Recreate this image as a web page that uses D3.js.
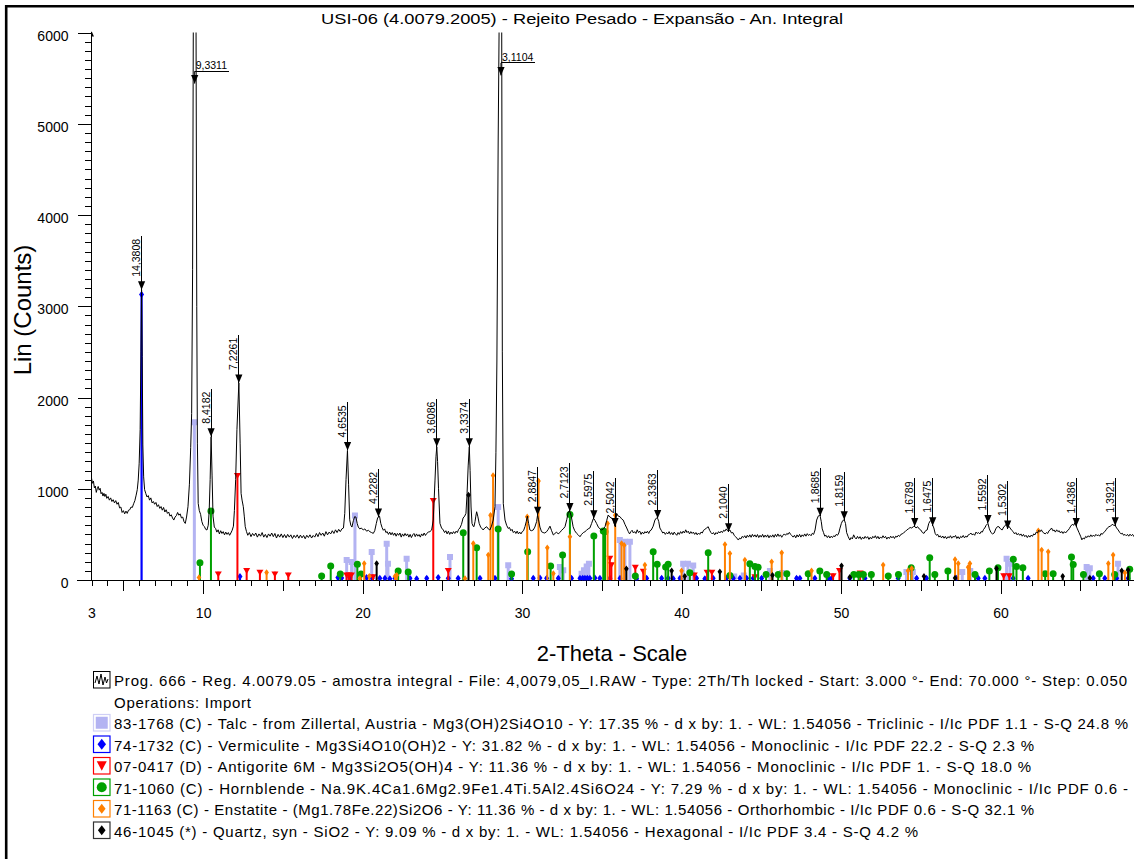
<!DOCTYPE html>
<html>
<head>
<meta charset="utf-8">
<script src="https://cdn.jsdelivr.net/npm/d3@7"></script>
<style>
  body { margin: 0; background: #fff; }
  svg { display: block; }
  text { font-family: "Liberation Sans", Arial, sans-serif; fill: #000; }
</style>
</head>
<body>
<svg id="chart" width="1134" height="859"></svg>
<script>
// ---------------------------------------------------------------- data
const chartTitle = "USI-06 (4.0079.2005) - Rejeito Pesado - Expansão - An. Integral";
const xAxisTitle = "2-Theta - Scale";
const yAxisTitle = "Lin (Counts)";
const xTickLabels = [3, 10, 20, 30, 40, 50, 60];
const yTickValues = [0, 1000, 2000, 3000, 4000, 5000, 6000];
const wavelength = 1.54056;

// measured scan: [2-theta (deg), counts]
const scan = [
  [3.00,1117],[3.06,1060],[3.12,1085],[3.18,1010],[3.24,1030],[3.30,960],[3.36,1000],[3.42,1025],[3.48,985],[3.54,1005],
  [3.60,945],[3.66,960],[3.72,920],[3.78,950],[3.84,915],[3.90,940],[3.96,895],[4.04,915],[4.12,875],[4.20,900],
  [4.28,860],[4.36,880],[4.44,845],[4.52,870],[4.60,830],[4.68,850],[4.76,790],[4.84,800],[4.92,740],[5.00,760],
  [5.08,725],[5.16,755],[5.24,730],[5.32,765],[5.40,770],[5.48,800],[5.56,795],[5.64,835],[5.72,870],[5.80,930],
  [5.87,990],[5.93,1095],[5.99,1280],[6.05,1650],[6.10,2500],[6.14,3180],[6.18,2450],[6.22,1480],[6.27,1130],[6.33,990],
  [6.40,950],[6.48,910],[6.56,925],[6.64,875],[6.72,900],[6.80,845],[6.88,860],[6.96,830],[7.04,850],[7.12,805],
  [7.20,825],[7.28,785],[7.36,805],[7.44,765],[7.52,795],[7.60,745],[7.68,770],[7.76,730],[7.84,745],[7.92,700],
  [8.00,715],[8.08,680],[8.16,657],[8.24,690],[8.32,705],[8.40,740],[8.48,710],[8.56,725],[8.64,680],[8.72,690],
  [8.80,640],[8.88,620],[8.96,690],[9.05,803],[9.14,1050],[9.22,1450],[9.28,1825],[9.34,3400],[9.39,6500],[9.47,8200],
  [9.55,6400],[9.60,3000],[9.64,1500],[9.69,840],[9.76,760],[9.84,720],[9.92,640],[10.00,600],[10.08,585],[10.16,555],
  [10.24,548],[10.32,600],[10.38,760],[10.44,1100],[10.50,1570],[10.56,1150],[10.62,700],[10.70,580],[10.78,565],[10.86,525],
  [10.94,550],[11.02,505],[11.10,540],[11.18,510],[11.26,530],[11.34,495],[11.42,525],[11.50,500],[11.58,520],[11.66,490],
  [11.74,515],[11.82,545],[11.90,590],[11.96,760],[12.04,1100],[12.12,1650],[12.24,2160],[12.32,1500],[12.38,950],[12.44,876],
  [12.52,803],[12.58,700],[12.64,584],[12.72,530],[12.80,490],[12.90,520],[13.00,475],[13.10,510],[13.20,485],[13.30,515],
  [13.40,470],[13.50,505],[13.60,480],[13.70,520],[13.80,470],[13.90,500],[14.00,465],[14.10,505],[14.20,480],[14.30,515],
  [14.40,475],[14.50,510],[14.60,460],[14.70,500],[14.80,470],[14.90,505],[15.00,465],[15.10,498],[15.20,462],[15.30,500],
  [15.40,470],[15.50,495],[15.60,455],[15.70,490],[15.80,465],[15.90,495],[16.00,458],[16.10,492],[16.20,462],[16.30,488],
  [16.40,452],[16.50,490],[16.60,466],[16.70,495],[16.80,460],[16.90,488],[17.00,470],[17.10,510],[17.20,475],[17.30,520],
  [17.40,490],[17.50,515],[17.60,480],[17.70,530],[17.80,495],[17.90,525],[18.00,505],[18.10,540],[18.20,510],[18.30,550],
  [18.40,520],[18.50,555],[18.60,530],[18.70,560],[18.80,570],[18.88,730],[18.96,1100],[19.05,1420],[19.12,1050],[19.19,660],
  [19.26,600],[19.33,580],[19.42,650],[19.50,694],[19.58,690],[19.66,620],[19.73,580],[19.82,560],[19.92,570],[20.04,548],
  [20.14,560],[20.25,535],[20.36,545],[20.46,529],[20.56,520],[20.67,511],[20.76,540],[20.86,620],[20.94,680],[20.99,690],
  [21.06,700],[21.14,620],[21.22,575],[21.30,545],[21.38,560],[21.46,520],[21.54,530],[21.62,500],[21.70,525],[21.78,495],
  [21.86,520],[21.94,490],[22.02,515],[22.10,480],[22.18,510],[22.26,490],[22.34,515],[22.42,470],[22.50,505],[22.58,480],
  [22.66,510],[22.74,485],[22.82,505],[22.90,470],[22.98,500],[23.06,465],[23.14,495],[23.22,510],[23.30,475],[23.38,505],
  [23.46,480],[23.54,498],[23.62,470],[23.70,505],[23.78,485],[23.86,515],[23.94,488],[24.02,510],[24.12,525],[24.22,530],
  [24.33,548],[24.43,657],[24.54,1095],[24.60,1350],[24.65,1460],[24.70,1300],[24.76,1000],[24.85,620],[24.95,570],[25.06,548],
  [25.14,520],[25.22,540],[25.30,505],[25.38,535],[25.46,500],[25.54,525],[25.62,505],[25.70,530],[25.78,510],[25.86,535],
  [25.94,520],[26.02,555],[26.10,570],[26.20,610],[26.30,679],[26.40,700],[26.48,730],[26.55,950],[26.62,1250],[26.69,1460],
  [26.74,1200],[26.80,800],[26.86,620],[26.93,590],[26.98,584],[27.05,640],[27.10,700],[27.15,748],[27.22,700],[27.31,620],
  [27.40,580],[27.50,560],[27.56,548],[27.66,570],[27.78,584],[27.88,560],[27.98,548],[28.08,590],[28.19,657],[28.30,803],
  [28.36,1400],[28.42,2400],[28.50,4800],[28.58,6500],[28.66,7600],[28.72,6300],[28.76,2500],[28.82,840],[28.93,657],[29.03,600],
  [29.13,565],[29.21,575],[29.29,540],[29.37,555],[29.45,520],[29.53,535],[29.61,510],[29.69,535],[29.77,505],[29.85,525],
  [29.93,505],[30.01,530],[30.09,540],[30.18,584],[30.26,640],[30.33,700],[30.41,620],[30.49,548],[30.58,540],[30.70,548],
  [30.80,580],[30.91,640],[30.97,710],[31.03,660],[31.12,580],[31.22,529],[31.32,520],[31.42,515],[31.54,530],[31.64,555],
  [31.75,590],[31.84,545],[31.96,493],[32.06,510],[32.16,525],[32.26,505],[32.37,520],[32.48,545],[32.58,560],[32.69,584],
  [32.80,660],[32.90,748],[33.00,750],[33.08,700],[33.20,584],[33.30,540],[33.42,511],[33.52,495],[33.63,474],[33.73,500],
  [33.84,520],[33.94,529],[34.04,545],[34.14,560],[34.25,570],[34.36,620],[34.46,670],[34.50,672],[34.58,650],[34.67,620],
  [34.78,580],[34.88,560],[34.99,548],[35.10,560],[35.20,584],[35.30,650],[35.40,712],[35.50,690],[35.62,679],[35.72,650],
  [35.83,588],[35.93,730],[36.03,700],[36.14,694],[36.24,670],[36.34,657],[36.45,610],[36.56,570],[36.66,530],[36.74,505],
  [36.82,530],[36.90,545],[36.98,515],[37.06,530],[37.14,510],[37.22,550],[37.30,520],[37.38,535],[37.46,500],[37.54,525],
  [37.62,505],[37.70,530],[37.78,515],[37.86,535],[37.94,510],[38.02,540],[38.10,548],[38.22,590],[38.33,657],[38.43,680],
  [38.50,676],[38.57,640],[38.64,570],[38.74,540],[38.82,515],[38.90,525],[38.98,500],[39.06,520],[39.14,505],[39.22,530],
  [39.30,500],[39.38,520],[39.46,495],[39.54,525],[39.62,505],[39.70,490],[39.78,520],[39.86,500],[39.94,530],[40.02,510],
  [40.10,535],[40.18,515],[40.26,550],[40.34,520],[40.42,535],[40.50,505],[40.58,530],[40.66,510],[40.74,525],[40.82,500],
  [40.90,520],[40.98,495],[41.06,515],[41.14,500],[41.22,525],[41.30,515],[41.38,545],[41.46,555],[41.57,570],[41.67,584],
  [41.76,545],[41.84,520],[41.92,505],[42.00,520],[42.08,495],[42.16,520],[42.24,505],[42.32,530],[42.40,515],[42.48,535],
  [42.56,520],[42.64,545],[42.72,535],[42.80,560],[42.88,540],[42.95,535],[43.03,548],[43.13,515],[43.22,520],[43.30,490],
  [43.38,475],[43.46,460],[43.56,438],[43.64,460],[43.72,450],[43.80,478],[43.88,465],[43.96,485],[44.04,460],[44.12,490],
  [44.20,470],[44.28,495],[44.36,468],[44.44,500],[44.52,475],[44.60,495],[44.68,470],[44.76,498],[44.84,465],[44.92,490],
  [45.00,470],[45.08,500],[45.16,468],[45.24,492],[45.32,470],[45.40,495],[45.48,462],[45.56,488],[45.64,470],[45.72,495],
  [45.80,468],[45.88,500],[45.96,475],[46.04,505],[46.12,478],[46.20,495],[46.28,468],[46.36,490],[46.44,505],[46.52,490],
  [46.60,510],[46.68,500],[46.76,522],[46.84,500],[46.92,485],[47.00,470],[47.08,490],[47.16,462],[47.24,495],[47.32,472],
  [47.40,500],[47.48,470],[47.56,495],[47.64,478],[47.72,505],[47.80,480],[47.88,508],[47.96,488],[48.04,500],[48.12,485],
  [48.20,512],[48.28,500],[48.37,548],[48.47,657],[48.57,700],[48.63,710],[48.69,700],[48.76,640],[48.82,560],[48.90,520],
  [48.98,480],[49.06,490],[49.14,465],[49.22,485],[49.30,460],[49.38,480],[49.46,465],[49.54,485],[49.62,475],[49.70,500],
  [49.78,490],[49.86,515],[49.92,560],[50.02,620],[50.10,650],[50.20,660],[50.28,620],[50.35,520],[50.45,474],[50.55,438],
  [50.63,465],[50.71,450],[50.79,495],[50.87,465],[50.95,450],[51.03,478],[51.11,455],[51.19,475],[51.27,445],[51.35,470],
  [51.43,452],[51.51,478],[51.59,458],[51.67,475],[51.75,445],[51.83,468],[51.91,450],[51.99,478],[52.07,462],[52.15,485],
  [52.23,455],[52.31,478],[52.39,450],[52.47,472],[52.55,458],[52.63,485],[52.71,462],[52.79,478],[52.87,448],[52.95,470],
  [53.03,455],[53.11,480],[53.19,462],[53.27,478],[53.35,455],[53.43,480],[53.51,470],[53.59,490],[53.67,478],[53.75,500],
  [53.83,505],[53.91,515],[54.02,530],[54.12,548],[54.22,560],[54.33,575],[54.43,570],[54.53,584],[54.62,588],[54.70,570],
  [54.80,584],[54.90,560],[55.00,548],[55.10,520],[55.20,511],[55.30,540],[55.40,548],[55.50,620],[55.60,650],[55.68,640],
  [55.75,600],[55.82,570],[55.90,511],[55.98,490],[56.06,500],[56.14,470],[56.22,485],[56.30,462],[56.38,482],[56.46,458],
  [56.54,478],[56.62,452],[56.70,475],[56.78,462],[56.86,485],[56.94,458],[57.02,478],[57.10,470],[57.18,488],[57.26,455],
  [57.34,475],[57.42,452],[57.50,478],[57.58,465],[57.66,488],[57.74,462],[57.82,480],[57.90,470],[57.98,495],[58.06,500],
  [58.14,515],[58.22,495],[58.30,505],[58.38,490],[58.46,525],[58.54,510],[58.62,520],[58.70,505],[58.78,530],[58.86,525],
  [58.94,555],[59.01,570],[59.10,600],[59.21,620],[59.30,560],[59.40,520],[59.50,505],[59.60,515],[59.70,560],[59.80,584],
  [59.90,584],[60.00,560],[60.10,548],[60.21,584],[60.32,600],[60.38,620],[60.44,565],[60.52,590],[60.60,570],[60.70,545],
  [60.80,529],[60.88,505],[60.96,520],[61.04,495],[61.12,510],[61.20,490],[61.28,505],[61.36,480],[61.44,500],[61.52,475],
  [61.60,490],[61.68,465],[61.76,488],[61.84,470],[61.92,492],[62.00,478],[62.08,505],[62.16,495],[62.24,525],[62.32,515],
  [62.40,545],[62.48,530],[62.56,550],[62.64,525],[62.72,515],[62.80,505],[62.88,520],[62.96,510],[63.04,540],[63.12,550],
  [63.20,570],[63.28,540],[63.36,548],[63.44,525],[63.52,550],[63.60,530],[63.68,540],[63.76,515],[63.84,532],[63.92,510],
  [64.00,530],[64.08,515],[64.16,535],[64.24,545],[64.32,565],[64.40,590],[64.50,610],[64.60,600],[64.66,630],[64.75,588],
  [64.82,560],[64.92,520],[65.02,480],[65.10,440],[65.18,460],[65.26,450],[65.34,478],[65.42,465],[65.50,485],[65.58,470],
  [65.66,495],[65.74,475],[65.82,492],[65.90,478],[65.98,500],[66.06,485],[66.14,495],[66.22,480],[66.30,510],[66.38,500],
  [66.46,520],[66.54,530],[66.62,550],[66.70,570],[66.80,584],[66.90,590],[67.00,610],[67.10,600],[67.19,598],[67.28,570],
  [67.38,548],[67.48,520],[67.56,505],[67.64,512],[67.72,490],[67.80,500],[67.88,485],[67.96,500],[68.04,480],[68.12,502],
  [68.20,485],[68.28,500],[68.36,478],[68.44,495],[68.52,480],[68.60,498],[68.70,485],[68.80,492]
];

// peaks picked on the scan: d-spacing (Angstrom) and counts at the marker
const peakD = [14.3808, 9.3311, 8.4182, 7.2261, 4.6535, 4.2282, 3.6086, 3.3374, 3.1104, 2.8847, 2.7123, 2.5975,
  2.5042, 2.3363, 2.1040, 1.8685, 1.8159, 1.6789, 1.6475, 1.5592, 1.5302, 1.4386, 1.3921];
const peakCounts = [3180, 5440, 1570, 2160, 1420, 690, 1460, 1460, 5530, 710, 750, 670,
  585, 675, 530, 700, 660, 585, 595, 620, 560, 585, 595];

// reference patterns: [2-theta (deg), counts]
const talcSticks = [[9.45,1750],[19.00,240],[19.31,220],[19.52,730],[20.57,330],[21.51,420],[21.59,200],[22.76,255],
  [25.48,274],[28.50,821],[29.13,183],[32.37,164],[32.58,130],[33.73,90],[33.88,130],[34.05,170],[34.19,200],[36.13,460],
  [36.45,440],[36.76,440],[40.10,200],[40.40,200],[40.73,180],[43.30,60],[43.90,70],[45.54,120],[46.30,100],[54.10,110],
  [54.50,110],[57.60,110],[58.10,120],[60.38,255],[60.59,200],[65.40,164],[65.60,150],[67.37,200]];
const vermiculiteSticks = [[6.14,3150],[12.31,60],[18.45,50],[18.69,45],[19.20,50],[20.25,50],[20.60,40],[21.08,40],
  [21.40,40],[21.71,35],[22.03,40],[22.97,40],[23.39,35],[24.02,40],[24.74,50],[25.37,40],[25.99,40],[27.36,40],[28.30,40],
  [29.34,35],[30.70,40],[31.12,45],[31.54,40],[32.27,40],[33.10,40],[33.63,40],[33.80,40],[33.94,40],[34.09,40],[34.25,40],
  [34.57,45],[34.88,40],[35.51,40],[36.14,40],[37.18,35],[37.81,40],[38.75,40],[39.16,40],[39.48,35],[39.90,40],[40.94,40],
  [41.46,35],[41.98,40],[42.82,40],[43.24,40],[43.66,40],[44.08,40],[44.49,40],[45.02,40],[47.21,40],[47.42,40],[48.36,40],
  [49.20,40],[49.41,40],[50.55,40],[51.50,40],[53.58,40],[54.74,40],[55.36,40],[57.24,40],[58.60,40],[59.02,40],[60.79,40],
  [61.73,40],[65.81,40],[66.54,40],[67.28,40],[68.00,40]];
const antigoriteSticks = [[10.95,91],[12.15,1168],[12.73,128],[13.56,110],[14.50,91],[15.34,80],[19.00,80],[19.15,80],
  [19.30,80],[20.65,60],[24.43,895],[25.37,128],[35.50,263],[35.60,190],[37.10,164],[37.60,120],[40.80,80],[41.60,110],
  [41.90,110],[44.60,60],[49.50,70],[49.90,128],[51.20,100],[60.20,70],[60.55,70]];
const hornblendeSticks = [[9.80,200],[10.49,767],[17.43,55],[18.00,164],[18.60,77],[19.67,183],[19.90,77],[22.23,110],
  [22.86,100],[26.31,529],[27.15,365],[28.50,570],[29.34,77],[30.35,321],[31.79,164],[32.54,285],[33.00,730],[34.50,493],
  [35.09,548],[35.20,540],[37.10,55],[38.22,321],[38.47,183],[39.00,153],[39.16,183],[40.52,91],[41.67,310],[43.03,60],
  [44.28,190],[44.60,160],[44.80,150],[45.30,70],[46.06,70],[46.60,80],[47.94,80],[48.67,110],[49.10,70],[50.80,70],
  [51.10,70],[51.40,70],[51.90,70],[52.96,55],[53.60,70],[54.40,146],[55.56,256],[55.88,70],[56.70,110],[58.40,70],
  [59.30,110],[59.84,146],[60.80,237],[61.00,160],[61.40,146],[62.80,80],[63.30,80],[64.45,263],[64.56,180],[65.20,70],
  [66.20,80],[67.16,70],[68.10,128]];
const enstatiteSticks = [[9.74,47],[13.98,102],[19.83,36],[20.10,200],[20.42,60],[22.03,60],[22.14,70],[26.42,36],
  [26.94,420],[27.88,292],[28.02,730],[28.18,1165],[30.32,712],[31.03,1105],[31.58,372],[31.96,91],[33.00,493],[35.36,639],
  [35.84,730],[36.24,420],[36.40,400],[37.70,183],[40.00,120],[42.72,409],[43.03,310],[43.97,237],[45.65,219],[46.28,318],
  [48.15,120],[52.64,183],[54.20,120],[54.43,146],[57.15,245],[57.35,200],[57.97,160],[58.08,200],[62.37,558],[62.58,347],
  [62.99,329],[66.76,200],[67.06,292],[67.80,100]];
const quartzSticks = [[20.88,200],[26.64,950],[36.54,142],[39.38,120],[40.20,60],[42.40,110],[45.70,70],[50.03,175],
  [50.55,50],[55.20,60],[57.15,40],[59.75,146],[63.90,60],[65.60,40],[67.60,120],[68.00,130]];

const legendTexts = [
  "Prog. 666 - Reg. 4.0079.05 - amostra integral - File: 4,0079,05_I.RAW - Type: 2Th/Th locked - Start: 3.000 °- End: 70.000 °- Step: 0.050",
  "Operations: Import",
  "83-1768 (C) - Talc - from Zillertal, Austria - Mg3(OH)2Si4O10 - Y: 17.35 % - d x by: 1. - WL: 1.54056 - Triclinic - I/Ic PDF 1.1 - S-Q 24.8 %",
  "74-1732 (C) - Vermiculite - Mg3Si4O10(OH)2 - Y: 31.82 % - d x by: 1. - WL: 1.54056 - Monoclinic - I/Ic PDF 22.2 - S-Q 2.3 %",
  "07-0417 (D) - Antigorite 6M - Mg3Si2O5(OH)4 - Y: 11.36 % - d x by: 1. - WL: 1.54056 - Monoclinic - I/Ic PDF 1. - S-Q 18.0 %",
  "71-1060 (C) - Hornblende - Na.9K.4Ca1.6Mg2.9Fe1.4Ti.5Al2.4Si6O24 - Y: 7.29 % - d x by: 1. - WL: 1.54056 - Monoclinic - I/Ic PDF 0.6 -",
  "71-1163 (C) - Enstatite - (Mg1.78Fe.22)Si2O6 - Y: 11.36 % - d x by: 1. - WL: 1.54056 - Orthorhombic - I/Ic PDF 0.6 - S-Q 32.1 %",
  "46-1045 (*) - Quartz, syn - SiO2 - Y: 9.09 % - d x by: 1. - WL: 1.54056 - Hexagonal - I/Ic PDF 3.4 - S-Q 4.2 %"
];

// ---------------------------------------------------------------- layout
const W = 1134, H = 859;
const svg = d3.select("#chart");
const x = d3.scaleLinear().domain([3, 70]).range([91.5, 1160]);
const y = d3.scaleLinear().domain([0, 6000]).range([580, 32.5]);
const plotTop = y(6000), plotBottom = y(0), plotLeft = x(3);

// phase styles: stick colour, width and the symbol at the tip
const phases = [
  { sticks: talcSticks,        color: "#b3b3f2", width: 3,   symbol: "square",   size: 6 },
  { sticks: vermiculiteSticks, color: "#0000ff", width: 2.2, symbol: "diamond",  size: 6 },
  { sticks: antigoriteSticks,  color: "#ff0000", width: 2,   symbol: "triangle", size: 7 },
  { sticks: hornblendeSticks,  color: "#00a000", width: 2,   symbol: "circle",   size: 7 },
  { sticks: enstatiteSticks,   color: "#ff8000", width: 2,   symbol: "diamond",  size: 5.5 },
  { sticks: quartzSticks,      color: "#000000", width: 2,   symbol: "diamond",  size: 5.5 }
];

function symbolPath(kind, cx, cy, s) {
  const h = s / 2;
  if (kind === "square") return `M${cx - h},${cy - h}h${s}v${s}h${-s}Z`;
  if (kind === "diamond") return `M${cx},${cy - h - 0.5}L${cx + h * 0.85},${cy}L${cx},${cy + h + 0.5}L${cx - h * 0.85},${cy}Z`;
  if (kind === "triangle") return `M${cx - h},${cy - h * 0.8}L${cx + h},${cy - h * 0.8}L${cx},${cy + h * 0.9}Z`;
  return null;
}

// outer frame (left and top rules)
svg.append("line").attr("x1", 6.2).attr("x2", 6.2).attr("y1", 5).attr("y2", H)
  .attr("stroke", "#000").attr("stroke-width", 2.6);
svg.append("line").attr("x1", 5).attr("x2", W).attr("y1", 6.2).attr("y2", 6.2)
  .attr("stroke", "#000").attr("stroke-width", 2.6);

// title
svg.append("text").attr("x", 582).attr("y", 23.5).attr("text-anchor", "middle")
  .style("font-size", "15.5px").attr("textLength", 522).attr("lengthAdjust", "spacingAndGlyphs")
  .text(chartTitle);

svg.append("defs").append("clipPath").attr("id", "plotClip")
  .append("rect").attr("x", plotLeft).attr("y", plotTop)
  .attr("width", W - plotLeft).attr("height", plotBottom - plotTop + 0.5);

// ---------------------------------------------------------------- axes
function tidy(g) {
  g.attr("font-family", null).attr("font-size", null);
  g.select(".domain").remove();
  g.selectAll(".tick line").attr("stroke", "#000").attr("shape-rendering", "crispEdges");
  g.selectAll(".tick text").style("font-size", "14px").attr("fill", "#111");
}
const degrees = d3.range(3, 71);
const gx = svg.append("g").attr("transform", `translate(0,${plotBottom})`);
gx.append("g").call(d3.axisBottom(x).tickValues(degrees.filter(v => v % 5 !== 0)).tickSize(6).tickFormat("")).call(tidy);
gx.append("g").call(d3.axisBottom(x).tickValues(degrees.filter(v => v % 5 === 0 && v % 10 !== 0)).tickSize(10.5).tickFormat("")).call(tidy);
gx.append("g").call(d3.axisBottom(x).tickValues(degrees.filter(v => v % 10 === 0)).tickSize(14).tickFormat("")).call(tidy);
gx.append("g").call(d3.axisBottom(x).tickValues(xTickLabels).tickSize(0).tickPadding(28).tickFormat(d3.format("d"))).call(tidy);

const gy = svg.append("g").attr("transform", `translate(${plotLeft},0)`);
gy.append("g").call(d3.axisLeft(y).tickValues(d3.range(0, 6001, 100).filter(v => v % 1000 !== 0)).tickSize(6.5).tickFormat("")).call(tidy);
gy.append("g").call(d3.axisLeft(y).tickValues(yTickValues).tickSize(14).tickPadding(9).tickFormat(d3.format("d"))).call(tidy);
gy.selectAll(".tick text").attr("dy", "0.55em");

svg.append("line").attr("x1", 77).attr("x2", W).attr("y1", plotBottom).attr("y2", plotBottom)
  .attr("stroke", "#000").attr("shape-rendering", "crispEdges");
svg.append("line").attr("x1", plotLeft).attr("x2", plotLeft).attr("y1", plotBottom).attr("y2", plotTop - 1)
  .attr("stroke", "#000").attr("shape-rendering", "crispEdges");
svg.append("path").attr("d", `M${plotLeft},${plotTop - 1.5}L${plotLeft + 2.5},${plotTop + 4}L${plotLeft},${plotTop + 4}Z`)
  .attr("fill", "#000");

svg.append("text").attr("transform", `translate(31,310) rotate(-90)`).attr("text-anchor", "middle")
  .style("font-size", "24px").text(yAxisTitle);
svg.append("text").attr("x", 612).attr("y", 661).attr("text-anchor", "middle")
  .style("font-size", "22px").text(xAxisTitle);

// ---------------------------------------------------------------- reference sticks
const plot = svg.append("g").attr("clip-path", "url(#plotClip)");
phases.forEach(ph => {
  const g = plot.append("g");
  g.selectAll("line").data(ph.sticks).join("line")
    .attr("x1", d => x(d[0])).attr("x2", d => x(d[0]))
    .attr("y1", plotBottom).attr("y2", d => y(d[1]))
    .attr("stroke", ph.color).attr("stroke-width", ph.width);
  if (ph.symbol === "circle") {
    g.selectAll("circle").data(ph.sticks).join("circle")
      .attr("cx", d => x(d[0])).attr("cy", d => y(d[1]) + 1).attr("r", ph.size / 2).attr("fill", ph.color);
  } else {
    g.selectAll("path").data(ph.sticks).join("path")
      .attr("d", d => symbolPath(ph.symbol, x(d[0]), y(d[1]) + ph.size / 2 - 1, ph.size))
      .attr("fill", ph.color);
  }
});

// ---------------------------------------------------------------- measured scan
plot.append("path").datum(scan)
  .attr("d", d3.line().x(d => x(d[0])).y(d => y(d[1])))
  .attr("fill", "none").attr("stroke", "#000").attr("stroke-width", 1).attr("stroke-linejoin", "round");

// ---------------------------------------------------------------- peak markers
const fmtD = d => d.toFixed(4).replace(".", ",");
const twoTheta = d => 2 * Math.asin(wavelength / (2 * d)) * 180 / Math.PI;
const marks = svg.append("g");
peakD.forEach((d, i) => {
  const t = twoTheta(d);
  const px = x(t), py = y(peakCounts[i]);
  const offScale = d3.max(scan.filter(s => Math.abs(s[0] - t) < 0.12), s => s[1]) > 6000;
  const g = marks.append("g");
  g.append("path").attr("d", `M${px - 3.6},${py - 8.5}L${px + 3.6},${py - 8.5}L${px},${py}Z`).attr("fill", "#000");
  if (offScale) {
    const label = g.append("text").attr("x", px + 1).attr("y", py - 14.5)
      .style("font-size", "10.5px").attr("fill", "#222").text(fmtD(d));
    const w = label.node().getComputedTextLength();
    g.append("line").attr("x1", px).attr("x2", px + w + 3).attr("y1", py - 12.5).attr("y2", py - 12.5)
      .attr("stroke", "#000").attr("shape-rendering", "crispEdges");
    g.append("line").attr("x1", px).attr("x2", px).attr("y1", py - 12.5).attr("y2", py).attr("stroke", "#000");
  } else {
    const label = g.append("text").attr("transform", `translate(${px - 1.5},${py - 13}) rotate(-90)`)
      .style("font-size", "10.5px").attr("fill", "#222").text(fmtD(d));
    const len = label.node().getComputedTextLength();
    g.append("line").attr("x1", px).attr("x2", px).attr("y1", py).attr("y2", py - 13 - len - 3)
      .attr("stroke", "#000").attr("shape-rendering", "crispEdges");
  }
});

// ---------------------------------------------------------------- legend
const legendWidths = [1013, 137, 1014, 920, 917, 1014, 920, 804];
const legend = svg.append("g");
const baseline0 = 686, lineStep = 21.5, boxX = 93, boxSize = 17.5, textX = 114;
legendTexts.forEach((txt, i) => {
  legend.append("text").attr("x", textX).attr("y", baseline0 + i * lineStep)
    .style("font-size", "15px").attr("textLength", legendWidths[i]).attr("lengthAdjust", "spacing")
    .text(txt);
});
const boxY = i => baseline0 + i * lineStep - 15;
// scan icon
const b0 = legend.append("g").attr("transform", `translate(${boxX},${boxY(0)})`);
b0.append("rect").attr("x", 0.5).attr("y", 0.5).attr("width", boxSize - 1).attr("height", boxSize - 1)
  .attr("fill", "none").attr("stroke", "#000");
b0.append("path").attr("d", "M2,12 L4,5 L6,13 L8,3 L10,14 L12,6 L13.5,12 L15,8")
  .attr("fill", "none").attr("stroke", "#000").attr("stroke-width", 1);
// phase icons
phases.forEach((ph, k) => {
  const g = legend.append("g").attr("transform", `translate(${boxX},${boxY(k + 2)})`);
  const c = boxSize / 2;
  g.append("rect").attr("x", 0.5).attr("y", 0.5).attr("width", boxSize - 1).attr("height", boxSize - 1)
    .attr("fill", "none").attr("stroke", ph.symbol === "square" ? "#cfcff6" : (ph.color === "#000000" ? "#333" : ph.color))
    .attr("stroke-width", 1.2);
  if (ph.symbol === "circle") {
    g.append("circle").attr("cx", c).attr("cy", c).attr("r", 5).attr("fill", ph.color);
  } else if (ph.symbol === "square") {
    g.append("path").attr("d", symbolPath("square", c, c, 12)).attr("fill", ph.color);
  } else if (ph.symbol === "triangle") {
    g.append("path").attr("d", `M${c - 5},${c - 4.5}L${c + 5},${c - 4.5}L${c},${c + 5}Z`).attr("fill", ph.color);
  } else {
    const s = ph.color === "#0000ff" ? 10 : 9;
    g.append("path").attr("d", symbolPath("diamond", c, c, s)).attr("fill", ph.color);
  }
});
</script>
</body>
</html>
